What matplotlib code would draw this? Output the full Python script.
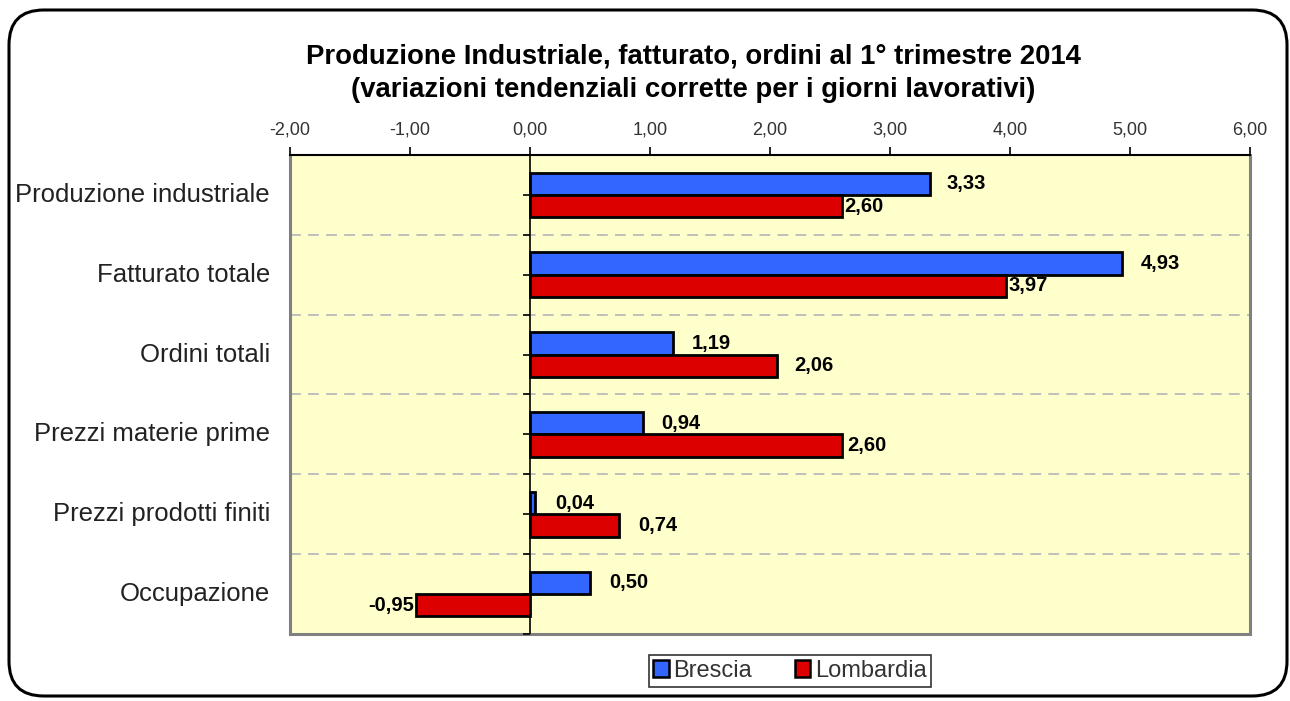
import matplotlib
matplotlib.use("Agg")
import matplotlib.pyplot as plt
from matplotlib.patches import FancyBboxPatch, Patch
import numpy as np

categories = ["Produzione industriale", "Fatturato totale", "Ordini totali",
              "Prezzi materie prime", "Prezzi prodotti finiti", "Occupazione"]
brescia = [3.33, 4.93, 1.19, 0.94, 0.04, 0.50]
lombardia = [2.60, 3.97, 2.06, 2.60, 0.74, -0.95]
series_names = ["Brescia", "Lombardia"]
xticks = [-2, -1, 0, 1, 2, 3, 4, 5, 6]

BLUE = "#3366FF"
RED = "#DD0000"
BG = "#FFFFCC"
FONT = "Liberation Sans"

def fmt(v):
    return f"{v:.2f}".replace(".", ",")

fig = plt.figure(figsize=(12.9, 7.01), dpi=100)

# rounded figure border
border = FancyBboxPatch((9 / 1290, 5 / 701), 1278 / 1290, 686 / 701,
                        boxstyle="round,pad=0,rounding_size=0.027",
                        transform=fig.transFigure, fill=False,
                        edgecolor="black", linewidth=2.2, mutation_aspect=1290 / 701)
fig.patches.append(border)

ax = fig.add_axes([290 / 1290, 1 - 634 / 701, 960 / 1290, 479 / 701])
ax.set_facecolor(BG)

y = np.arange(len(categories))
h = 0.28
ax.barh(y - h / 2, brescia, height=h, color=BLUE, edgecolor="black", linewidth=2, zorder=3)
ax.barh(y + h / 2, lombardia, height=h, color=RED, edgecolor="black", linewidth=2, zorder=3)

ax.set_xlim(-2, 6)
ax.set_ylim(len(categories) - 0.5, -0.5)

# separators
for b in np.arange(0.5, len(categories) - 0.5, 1):
    ax.axhline(b, color="#BBBBBB", linewidth=1.3, dashes=(6, 4), zorder=1)

# vertical axis at zero with ticks
ax.axvline(0, color="black", linewidth=1.2, zorder=4)
tick_y = np.arange(-0.5, len(categories), 0.5)
ax.plot(np.zeros_like(tick_y), tick_y, linestyle="none", marker=0, markersize=5,
        markeredgewidth=1.2, color="black", zorder=4, clip_on=False)

# x axis on top
ax.xaxis.tick_top()
ax.set_xticks(xticks)
ax.set_xticklabels([fmt(v) for v in xticks], fontfamily=FONT, fontsize=13, color="#333333")
ax.tick_params(axis="x", direction="out", length=6, width=1.2, color="black", pad=6)
ax.set_yticks([])

for s in ["left", "right", "bottom"]:
    ax.spines[s].set_color("#808080")
    ax.spines[s].set_linewidth(2.2)
ax.spines["top"].set_color("black")
ax.spines["top"].set_linewidth(1.5)

# category labels
for i, c in enumerate(categories):
    ax.annotate(c, xy=(0, i), xycoords=("axes fraction", "data"), xytext=(-20, 0),
                textcoords="offset pixels", ha="right", va="center",
                fontfamily=FONT, fontsize=18.5, color="#222222")

# data labels
LBL = dict(fontfamily=FONT, fontsize=14.5, fontweight="bold", zorder=5, va="center",
           textcoords="offset pixels")
blue_pad = [17, 19, 19, 18, 20, 19]
red_pad = [2, 2, 17, 5, 19, 2]
for i, v in enumerate(brescia):
    ax.annotate(fmt(v), xy=(v, i - h / 2), xytext=(blue_pad[i], 0), ha="left", **LBL)
for i, v in enumerate(lombardia):
    if v >= 0:
        ax.annotate(fmt(v), xy=(v, i + h / 2), xytext=(red_pad[i], 0), ha="left", **LBL)
    else:
        ax.annotate(fmt(v), xy=(v, i + h / 2), xytext=(-red_pad[i], 0), ha="right", **LBL)

# title
fig.text(693 / 1290, 1 - 73 / 701,
         "Produzione Industriale, fatturato, ordini al 1° trimestre 2014\n(variazioni tendenziali corrette per i giorni lavorativi)",
         ha="center", va="center", fontfamily=FONT, fontsize=19.8, fontweight="bold", linespacing=1.4)

# legend
handles = [Patch(facecolor=BLUE, edgecolor="black", linewidth=1.8),
           Patch(facecolor=RED, edgecolor="black", linewidth=1.8)]
leg = fig.legend(handles, series_names, loc="center",
                 bbox_to_anchor=(790 / 1290, 1 - 671 / 701), ncol=2, frameon=True,
                 fancybox=False, edgecolor="black", prop={"family": FONT, "size": 17},
                 handlelength=0.65, handleheight=0.7, handletextpad=0.2, columnspacing=1.8,
                 borderpad=0.2, borderaxespad=0, labelcolor="#333333")
leg.get_frame().set_linewidth(1.2)

fig.savefig("out.png", dpi=100)
